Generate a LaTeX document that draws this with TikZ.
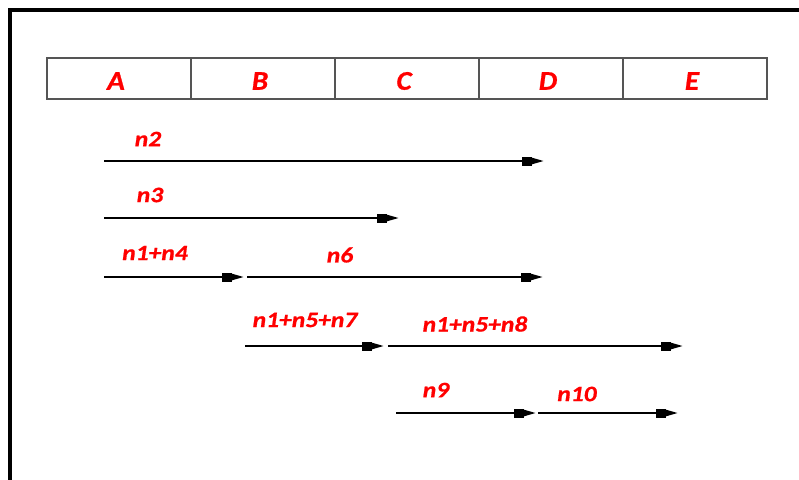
\documentclass[tikz,border=0pt]{standalone}
\usepackage{fontspec}
\usetikzlibrary{arrows.meta}
\newfontfamily\lblfont[FakeStretch=1.16,FakeBold=0.8]{Carlito}
\newfontfamily\hdrfont[FakeStretch=1.08,FakeBold=0.8]{Carlito}
\definecolor{lblred}{RGB}{255,0,0}
\definecolor{gridgray}{RGB}{85,85,85}
\tikzset{
  hdr/.style={text=lblred, font=\hdrfont\bfseries\itshape\fontsize{27}{27}\selectfont, inner sep=0pt},
  lbl/.style={text=lblred, font=\lblfont\bfseries\itshape\fontsize{22}{22}\selectfont, inner sep=0pt},
  flow/.style={line width=2pt, draw=black,
    -{Rectangle[length=10pt,width=9pt,sep=0pt]Triangle[length=12pt,width=6pt]}},
  cell/.style={draw=gridgray, line width=1.5pt}
}
\begin{document}
\begin{tikzpicture}[x=1pt,y=-1pt]
\useasboundingbox (0,0) rectangle (799,479);
% frame
\draw[line width=3.5pt, line cap=rect] (10,479) -- (10,10) -- (799,10);
% header table
\foreach \i/\t in {0/A,1/B,2/C,3/D,4/E}{
  \draw[cell] (47+144*\i,58) rectangle (191+144*\i,99);
  \node[hdr] (h\t) at (116+144*\i,81) {\t};
}
% coordinates
\coordinate (s2) at (104,161);  \coordinate (e2) at (544,161);
\coordinate (s3) at (104,218);  \coordinate (e3) at (399,218);
\coordinate (s14) at (104,277); \coordinate (e14) at (244,277);
\coordinate (s6) at (247,277);  \coordinate (e6) at (543,277);
\coordinate (s157) at (245,346); \coordinate (e157) at (384,346);
\coordinate (s158) at (388,346); \coordinate (e158) at (683,346);
\coordinate (s9) at (396,413);  \coordinate (e9) at (536,413);
\coordinate (s10) at (538,413); \coordinate (e10) at (678,413);
% arrows
\draw[flow] (s2) -- (e2);
\draw[flow] (s3) -- (e3);
\draw[flow] (s14) -- (e14);
\draw[flow] (s6) -- (e6);
\draw[flow] (s157) -- (e157);
\draw[flow] (s158) -- (e158);
\draw[flow] (s9) -- (e9);
\draw[flow] (s10) -- (e10);
% labels
\node[lbl] (l2) at (148,139) {n2};
\node[lbl] (l3) at (150,195) {n3};
\node[lbl] (l14) at (155,253) {n1+n4};
\node[lbl] (l6) at (340,255) {n6};
\node[lbl] (l157) at (305,320) {n1+n5+n7};
\node[lbl] (l158) at (475,324) {n1+n5+n8};
\node[lbl] (l9) at (436,390) {n9};
\node[lbl] (l10) at (577,394) {n10};
\end{tikzpicture}
\end{document}
